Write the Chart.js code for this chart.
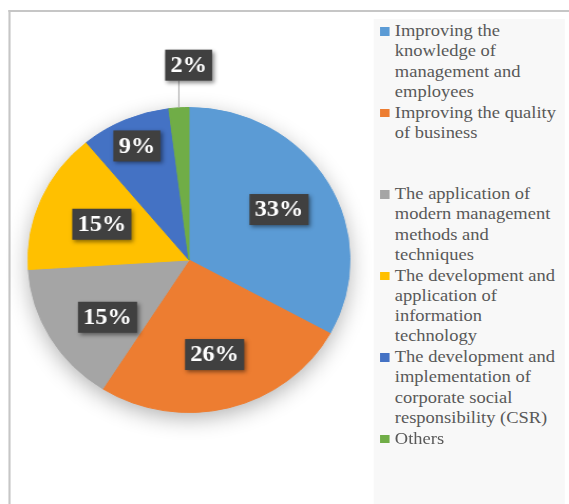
<!DOCTYPE html>
<html>
<head>
<meta charset="utf-8">
<script src="https://cdn.jsdelivr.net/npm/chart.js@4/dist/chart.umd.min.js"></script>
<style>
  html, body { margin: 0; padding: 0; background: #fff; overflow: hidden; }
  #stage {
    position: absolute; left: 0; top: 0; width: 539px; height: 504px;
    transform: scaleX(1.0557); transform-origin: 0 0;
    font-family: "Liberation Serif", "Times New Roman", serif;
  }
  #frame {
    position: absolute; left: 7.5px; top: 10px; width: 600px; height: 600px;
    border-left: 2px solid #c6c6c6; border-top: 2px solid #c6c6c6;
  }
  #legendPanel {
    position: absolute; left: 354px; top: 19px; width: 181px; height: 490px;
    background: #f8f8f8;
  }
  .item { position: absolute; left: 0; height: 81.5px; }
  .item .sw { position: absolute; left: 6px; top: 7px; width: 8.5px; height: 8.5px; }
  .item .tx {
    position: absolute; left: 20px; top: 0; white-space: nowrap;
    font-size: 17.5px; line-height: 20.3px; color: #595959;
  }
  #resultsChart { position: absolute; left: 0; top: 0; }
</style>
</head>
<body>
<div id="stage">
  <div id="frame"></div>
  <div id="legendPanel"></div>
  <canvas id="resultsChart" width="539" height="504"></canvas>
</div>
<script>
const categories = [
  ["Improving the", "knowledge of", "management and", "employees"],
  ["Improving the quality", "of business"],
  ["The application of", "modern management", "methods and", "techniques"],
  ["The development and", "application of", "information", "technology"],
  ["The development and", "implementation of", "corporate social", "responsibility (CSR)"],
  ["Others"],
];
const shares = [33, 26, 15, 15, 9, 2];
const sliceColors = ["#5b9bd5", "#ed7d31", "#a5a5a5", "#ffc000", "#4472c4", "#70ad47"];

// where each percentage box sits: fraction of radius, and a small turn in degrees
const labelDist = [0.65, 0.64, 0.63, 0.59, 0.815, 1.28];
const labelTurn = [0, 0, -6, 0, 0, 0];

// legend, built from the same arrays
const panel = document.getElementById("legendPanel");
categories.forEach((lines, i) => {
  const item = document.createElement("div");
  item.className = "item";
  item.style.top = (1 + i * 81.5) + "px";
  item.style.width = "181px";
  const sw = document.createElement("div");
  sw.className = "sw";
  sw.style.background = sliceColors[i];
  const tx = document.createElement("div");
  tx.className = "tx";
  tx.innerHTML = lines.join("<br>");
  item.appendChild(sw);
  item.appendChild(tx);
  panel.appendChild(item);
});

const pieShadow = {
  id: "pieShadow",
  beforeDatasetsDraw(chart) {
    const arc = chart.getDatasetMeta(0).data[0];
    if (!arc) return;
    const { x, y, outerRadius } = arc.getProps(["x", "y", "outerRadius"], true);
    const ctx = chart.ctx;
    ctx.save();
    ctx.shadowColor = "rgba(0,0,0,0.32)";
    ctx.shadowBlur = 22;
    ctx.shadowOffsetY = 6;
    ctx.beginPath();
    ctx.arc(x, y, outerRadius - 1, 0, Math.PI * 2);
    ctx.fillStyle = "#ffffff";
    ctx.fill();
    ctx.restore();
  },
};

const pctLabels = {
  id: "pctLabels",
  afterDatasetsDraw(chart) {
    const ctx = chart.ctx;
    const meta = chart.getDatasetMeta(0);
    ctx.save();
    ctx.font = "bold 23px 'Liberation Serif', 'Times New Roman', serif";
    meta.data.forEach((arc, i) => {
      const p = arc.getProps(["x", "y", "startAngle", "endAngle", "outerRadius"], true);
      const mid = (p.startAngle + p.endAngle) / 2;
      const ang = mid + labelTurn[i] * Math.PI / 180;
      const d = labelDist[i] * p.outerRadius;
      const text = shares[i] + "%";
      const w = ctx.measureText(text).width + 10;
      const h = 31;
      let cx = p.x + Math.cos(ang) * d;
      const cy = p.y + Math.sin(ang) * d;
      if (labelDist[i] > 1) {
        const ex = p.x + Math.cos(mid) * p.outerRadius;
        const ey = p.y + Math.sin(mid) * p.outerRadius;
        cx = ex - 13 + w / 2;
        ctx.strokeStyle = "#a6a6a6";
        ctx.lineWidth = 1;
        ctx.beginPath();
        ctx.moveTo(ex, ey);
        ctx.lineTo(ex, cy + h / 2);
        ctx.stroke();
      }
      ctx.save();
      ctx.shadowColor = "rgba(0,0,0,0.45)";
      ctx.shadowBlur = 4;
      ctx.shadowOffsetX = 2;
      ctx.shadowOffsetY = 2;
      ctx.fillStyle = "#404040";
      ctx.fillRect(cx - w / 2, cy - h / 2, w, h);
      ctx.restore();
      ctx.fillStyle = "#ffffff";
      ctx.textAlign = "center";
      ctx.textBaseline = "middle";
      ctx.fillText(text, cx, cy + 1);
    });
    ctx.restore();
  },
};

const ctx = document.getElementById("resultsChart").getContext("2d");
new Chart(ctx, {
  type: "pie",
  data: {
    labels: categories.map((l) => l.join(" ")),
    datasets: [
      {
        data: shares,
        backgroundColor: sliceColors,
        borderColor: sliceColors,
        borderWidth: 1,
      },
    ],
  },
  options: {
    responsive: false,
    animation: false,
    layout: { padding: { left: 26, right: 207, top: 107, bottom: 91 } },
    plugins: {
      legend: { display: false },
      tooltip: { enabled: false },
    },
  },
  plugins: [pieShadow, pctLabels],
});
</script>
</body>
</html>
